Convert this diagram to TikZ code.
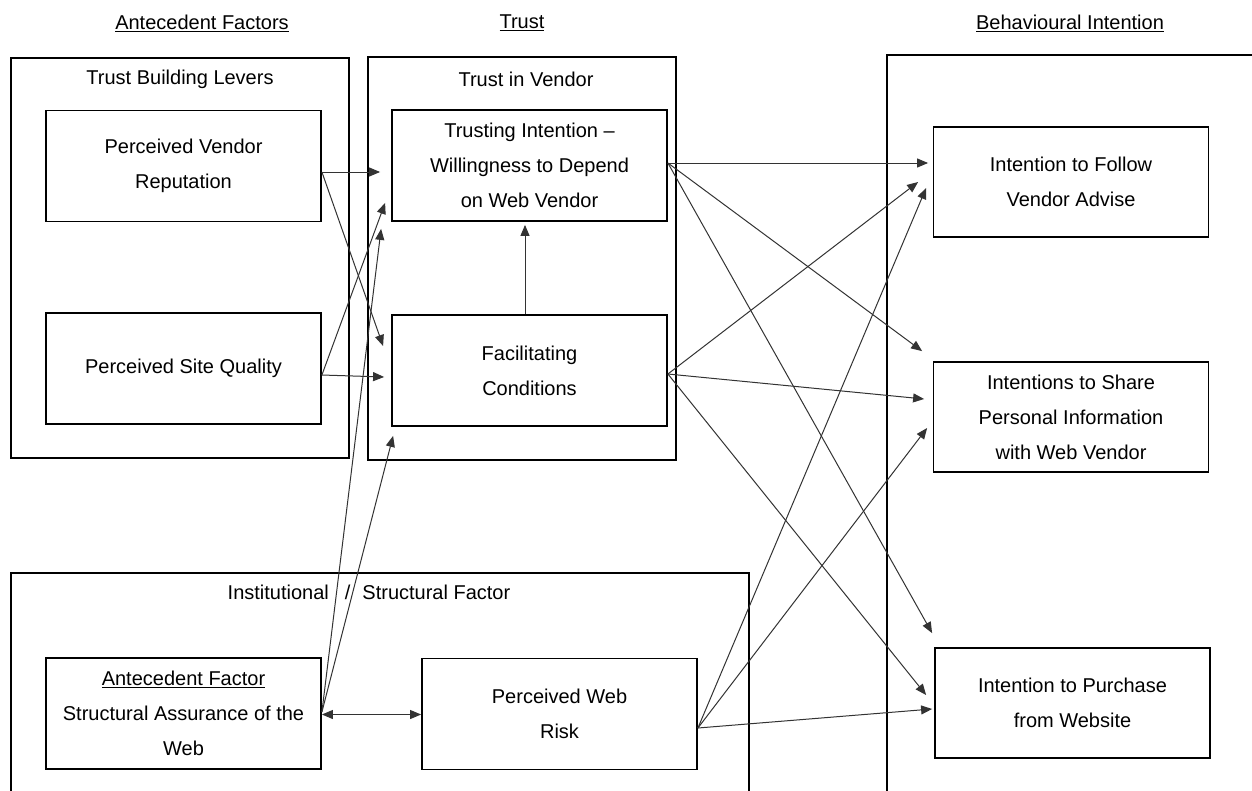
\documentclass[tikz,border=0pt]{standalone}
\usepackage{fontspec}
\setmainfont{Liberation Sans}
\usetikzlibrary{arrows.meta,calc}
\begin{document}
\begin{tikzpicture}[x=1pt,y=-1pt,
  every node/.style={font=\fontsize{20}{35}\selectfont},
  box/.style={draw,line width=1.8pt,minimum width=275pt,minimum height=111pt,inner sep=0pt,align=center},
  frame/.style={line width=1.8pt},
  link/.style={draw=black!80,line width=1pt,-{Triangle[length=11pt,width=9pt]}},
  twoway/.style={draw=black!80,line width=1pt,{Triangle[length=11pt,width=9pt]}-{Triangle[length=11pt,width=9pt]}},
]
\fill[white] (0,0) rectangle (1252,790);
\clip (0,0) rectangle (1252,790);

% column headings
\node (hAF) at (202,23) {\underline{Antecedent Factors}};
\node (hT) at (522,23) {\underline{Trust}};
\node (hBI) at (1070,23) {\underline{Behavioural Intention}};

% group frames
\draw[frame] (11,58) rectangle (349,458);
\draw[frame] (368,57) rectangle (676,460);
\draw[frame] (1262,55) -- (887,55) -- (887,800);
\draw[frame] (11,800) -- (11,573) -- (749,573) -- (749,800);

\node (lTBL) at (180,79) {Trust Building Levers};
\node (lTIV) at (526,79) {Trust in Vendor};
\node (lISF) at (369,592) {Institutional\hspace{16pt}/\hspace{12pt}Structural Factor};

% constructs
\node[box] (pvr) at (183.5,166) {Perceived Vendor\\Reputation};
\node[box] (psq) at (183.5,368.5) {Perceived Site Quality};
\node[box] (ti) at (529.5,165.5) {Trusting Intention --\\Willingness to Depend\\on Web Vendor};
\node[box] (fc) at (529.5,370.5) {Facilitating\\Conditions};
\node[box,minimum height=110pt] (fol) at (1071,182) {Intention to Follow\\Vendor Advise};
\node[box,minimum height=110pt] (shr) at (1071,417) {Intentions to Share\\Personal Information\\with Web Vendor};
\node[box,minimum height=110pt] (pur) at (1072.5,703) {Intention to Purchase\\from Website};
\node[box] (ant) at (183.5,713.5) {\underline{Antecedent Factor}\\Structural Assurance of the\\Web};
\node[box] (wr) at (559.5,714) {Perceived Web\\Risk};

% antecedents to trust
\draw[link] ($(pvr.east)+(0,6)$) -- ($(ti.west)+(-11,6.5)$);
\draw[link] ($(pvr.east)+(0,6)$) -- ($(fc.west)+(-8,-24.5)$);
\draw[link] ($(psq.east)+(0,6.5)$) -- ($(ti.south west)+(-6,-19)$);
\draw[link] ($(psq.east)+(0,6.5)$) -- ($(fc.west)+(-7,6.5)$);
\draw[link] ($(ant.east)+(0,-1.5)$) -- ($(ti.south west)+(-10,7)$);
\draw[link] ($(ant.east)+(0,-1.5)$) -- ($(fc.south west)+(2,9)$);
\draw[twoway] ($(ant.east)+(0,1)$) -- ($(wr.west)+(0,0.5)$);
\draw[link] ($(fc.north)+(-4.5,0)$) -- ($(ti.south)+(-4.5,3)$);

% trust to behavioural intention
\draw[link] ($(ti.east)+(0,-2.5)$) -- ($(fol.west)+(-4.5,-19)$);
\draw[link] ($(ti.east)+(0,-2.5)$) -- ($(shr.north west)+(-10.5,-10)$);
\draw[link] ($(ti.east)+(0,-2.5)$) -- ($(pur.north west)+(-2,-14)$);
\draw[link] ($(fc.east)+(0,3.5)$) -- ($(fol.west)+(-14.5,0)$);
\draw[link] ($(fc.east)+(0,3.5)$) -- ($(shr.west)+(-8.5,-18)$);
\draw[link] ($(fc.east)+(0,3.5)$) -- ($(pur.west)+(-8,-8)$);
\draw[link] ($(wr.east)+(0,14)$) -- ($(fol.west)+(-6.5,6)$);
\draw[link] ($(wr.east)+(0,14)$) -- ($(shr.west)+(-5.5,11)$);
\draw[link] ($(wr.east)+(0,14)$) -- ($(pur.west)+(-2,6)$);
\end{tikzpicture}
\end{document}
